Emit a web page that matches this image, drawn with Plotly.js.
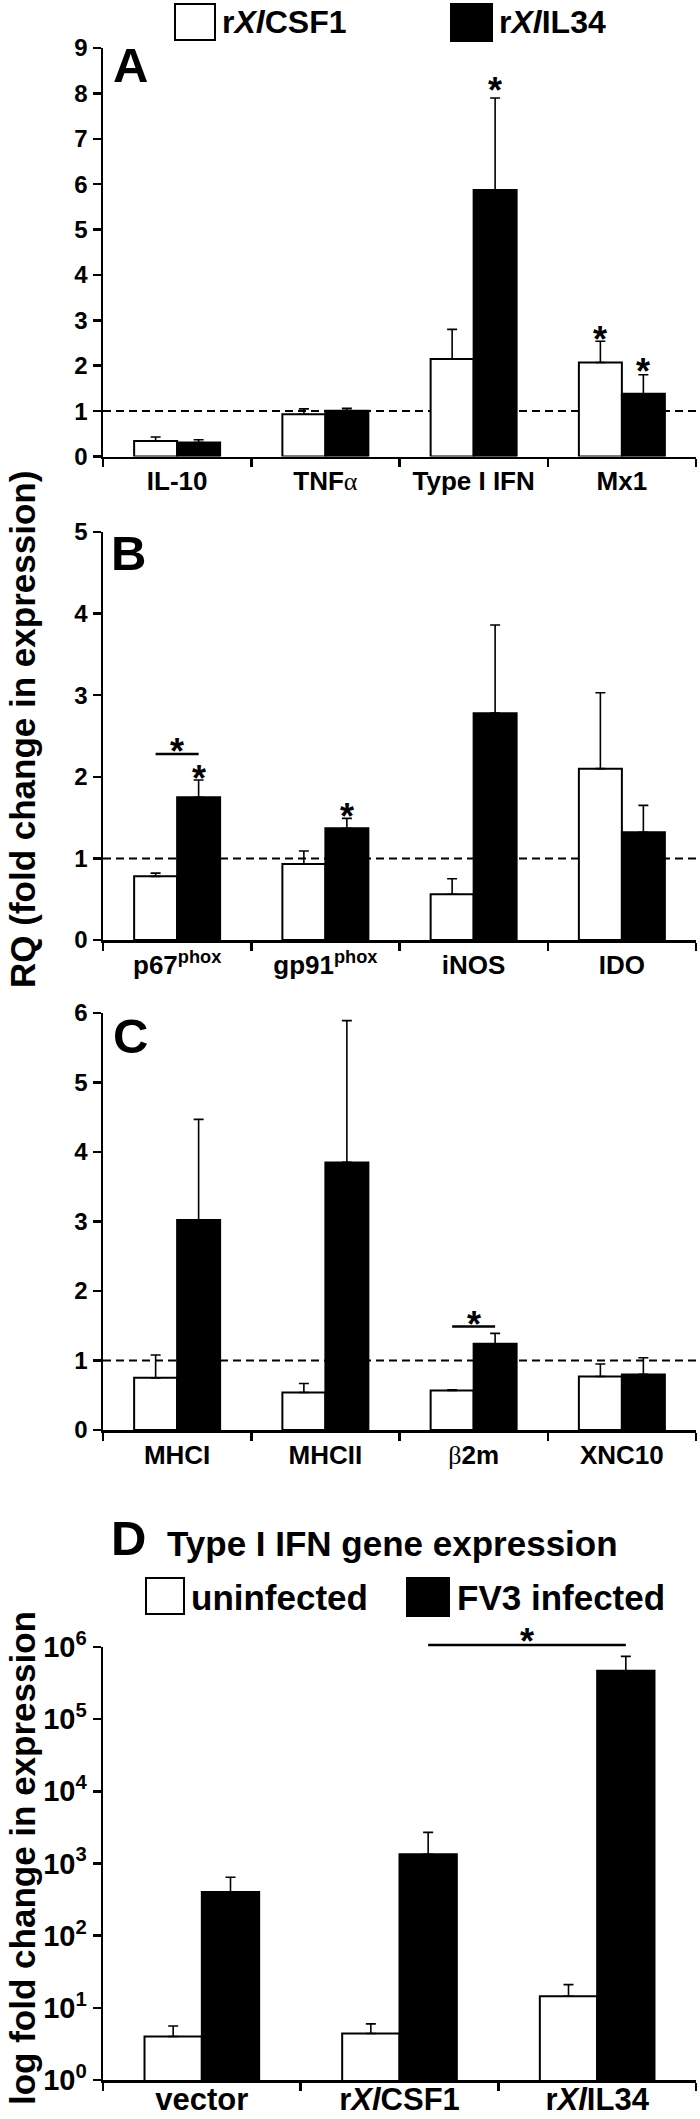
<!DOCTYPE html>
<html>
<head>
<meta charset="utf-8">
<script src="https://cdn.plot.ly/plotly-3.0.1.min.js"></script>
<style>html,body{margin:0;padding:0;background:#fff;}#chart{width:700px;height:2119px;}</style>
</head>
<body>
<div id="chart"></div>
<script>
// ---------- data ----------
const SYM = s => '<span style="font-family:Liberation Serif, serif;font-weight:normal">' + s + '</span>';
const catsA = ['IL-10', 'TNF' + SYM('α'), 'Type I IFN', 'Mx1'];
const csfA = [0.34, 0.93, 2.15, 2.07];
const csfAerr = [0.09, 0.12, 0.65, 0.47];
const il34A = [0.31, 1.01, 5.87, 1.38];
const il34Aerr = [0.06, 0.05, 2.03, 0.42];

const catsB = ['p67<sup>phox</sup>', 'gp91<sup>phox</sup>', 'iNOS', 'IDO'];
const csfB = [0.78, 0.93, 0.56, 2.10];
const csfBerr = [0.04, 0.16, 0.19, 0.93];
const il34B = [1.75, 1.37, 2.78, 1.32];
const il34Berr = [0.21, 0.12, 1.08, 0.33];

const catsC = ['MHCI', 'MHCII', SYM('β') + '2m', 'XNC10'];
const csfC = [0.75, 0.54, 0.57, 0.77];
const csfCerr = [0.33, 0.13, 0.01, 0.18];
const il34C = [3.02, 3.85, 1.24, 0.80];
const il34Cerr = [1.45, 2.04, 0.15, 0.24];

const catsD = ['vector', 'r<i>Xl</i>CSF1', 'r<i>Xl</i>IL34'];
const uninfD = [4.0, 4.4, 14.5];
const uninfDerr = [1.6, 1.6, 6.5];
const fv3D = [404, 1343, 468000];
const fv3Derr = [240, 1360, 274000];

const yTicksD = [1, 10, 100, 1000, 10000, 100000, 1000000];
const yTickTextD = ['10<sup>0</sup>', '10<sup>1</sup>', '10<sup>2</sup>', '10<sup>3</sup>', '10<sup>4</sup>', '10<sup>5</sup>', '10<sup>6</sup>'];

// significance marks: [category index, series (0 white, 1 black), star y]
const starsA = [[2, 1, 8.23], [3, 0, 2.76], [3, 1, 2.05]];
const starsB = [[0, 1, 2.08], [1, 1, 1.61]];
// bracket marks: [category index, line y, star y]
const bracketsB = [[0, 2.28, 2.41]];
const bracketsC = [[2, 1.49, 1.63]];
// panel D bracket: [from category, to category, line y, star y]
const bracketD = [1, 2, 1.07e6, 1.55e6];

// ---------- layout helpers ----------
const W = 700, H = 2119;
const px = v => v / W;
const py = v => 1 - v / H;
const BARGAP = 0.42;
const OFF = (1 - BARGAP) / 4; // centre offset of each bar in a group
const FONT = 'Liberation Sans, Arial, Helvetica, sans-serif';
const STAR = 36;

function barPair(cats, w, werr, b, berr, xa, ya) {
  const zeros = w.map(() => 0);
  return [
    {type: 'bar', x: cats, y: w, xaxis: xa, yaxis: ya, name: 'white',
     marker: {color: 'white', line: {color: 'black', width: 2}},
     error_y: {type: 'data', array: werr, arrayminus: zeros, symmetric: false, color: 'black', thickness: 1.6, width: 5}},
    {type: 'bar', x: cats, y: b, xaxis: xa, yaxis: ya, name: 'black',
     marker: {color: 'black', line: {color: 'black', width: 2}},
     error_y: {type: 'data', array: berr, arrayminus: zeros, symmetric: false, color: 'black', thickness: 1.6, width: 5}}
  ];
}

const data = [].concat(
  barPair(catsA, csfA, csfAerr, il34A, il34Aerr, 'x', 'y'),
  barPair(catsB, csfB, csfBerr, il34B, il34Berr, 'x2', 'y2'),
  barPair(catsC, csfC, csfCerr, il34C, il34Cerr, 'x3', 'y3'),
  barPair(catsD, uninfD, uninfDerr, fv3D, fv3Derr, 'x4', 'y4'),
  // empty helper trace so that the significance layer (x4 / y5) exists as a subplot
  [{type: 'scatter', x: [], y: [], xaxis: 'x4', yaxis: 'y5', hoverinfo: 'skip'}]
);

const xDomain = [px(103), px(696)];
function xAxis(anchor, fs, cats) {
  return {type: 'category', categoryorder: 'array', categoryarray: cats, domain: xDomain, anchor: anchor,
    showline: true, linecolor: 'black', linewidth: 2.5, ticks: 'outside', ticklen: 8, tickwidth: 2.5,
    tickcolor: 'black', tickson: 'boundaries', showgrid: false, zeroline: false, fixedrange: true,
    tickfont: {size: fs, family: FONT, color: 'black', weight: 'bold'}};
}
function yAxis(anchor, dom, range) {
  return {domain: dom, anchor: anchor, range: range, dtick: 1, tick0: 0,
    showline: true, linecolor: 'black', linewidth: 2.5, ticks: 'outside', ticklen: 8, tickwidth: 2.5,
    tickcolor: 'black', showgrid: false, zeroline: false, fixedrange: true,
    tickfont: {size: 24, family: FONT, color: 'black', weight: 'bold'}};
}

const shapes = [];
const annotations = [];

// reference dashed lines at RQ = 1
[['x', 'y'], ['x2', 'y2'], ['x3', 'y3']].forEach(([xa, ya]) => {
  shapes.push({type: 'line', xref: xa + ' domain', yref: ya, x0: 0, x1: 1, y0: 1, y1: 1, layer: 'below',
    line: {color: 'black', width: 2, dash: '8px,5px'}});
});

function star(xa, ya, x, y) {
  annotations.push({xref: xa, yref: ya, x: x, y: y, text: '*', showarrow: false,
    xanchor: 'center', yanchor: 'middle', yshift: -8, font: {size: STAR, family: FONT, color: 'black', weight: 'bold'}});
}
starsA.forEach(([c, s, y]) => star('x', 'y', c + (s ? OFF : -OFF), y));
starsB.forEach(([c, s, y]) => star('x2', 'y2', c + (s ? OFF : -OFF), y));
function bracket(xa, ya, c, ly, sy) {
  shapes.push({type: 'line', xref: xa, yref: ya, x0: c - OFF, x1: c + OFF, y0: ly, y1: ly, line: {color: 'black', width: 2.5}});
  star(xa, ya, c, sy);
}
bracketsB.forEach(([c, ly, sy]) => bracket('x2', 'y2', c, ly, sy));
bracketsC.forEach(([c, ly, sy]) => bracket('x3', 'y3', c, ly, sy));
shapes.push({type: 'line', xref: 'x4', yref: 'y5', x0: bracketD[0] + OFF, x1: bracketD[1] + OFF,
  y0: bracketD[2], y1: bracketD[2], line: {color: 'black', width: 2.5}});
star('x4', 'y5', (bracketD[0] + bracketD[1]) / 2 + OFF, Math.log10(bracketD[3]));

// panel letters
[['A', 130, 65.5], ['B', 128, 553], ['C', 130, 1036], ['D', 128, 1538]].forEach(([t, x, y]) => {
  annotations.push({xref: 'paper', yref: 'paper', x: px(x), y: py(y), text: t, showarrow: false,
    xanchor: 'center', yanchor: 'middle', font: {size: 49, family: FONT, color: 'black', weight: 'bold'}});
});

// legends (drawn manually)
function legBox(x0, x1, y0, y1, fill) {
  shapes.push({type: 'rect', xref: 'paper', yref: 'paper', x0: px(x0), x1: px(x1), y0: py(y1), y1: py(y0),
    fillcolor: fill, line: {color: 'black', width: 2}});
}
function legText(t, x, y, fs) {
  annotations.push({xref: 'paper', yref: 'paper', x: px(x), y: py(y), text: t, showarrow: false,
    xanchor: 'left', yanchor: 'middle', font: {size: fs, family: FONT, color: 'black', weight: 'bold'}});
}
legBox(175, 215, 4, 40, 'white');
legText('r<i>Xl</i>CSF1', 220, 22, 32);
legBox(451, 492, 4, 41, 'black');
legText('r<i>Xl</i>IL34', 497, 22, 32);

legText('Type I IFN gene expression', 165, 1543, 35);
legBox(146, 184, 1578, 1614, 'white');
legText('uninfected', 189, 1597, 35);
legBox(407, 449, 1578, 1616, 'black');
legText('FV3 infected', 455, 1597, 35);

// y-axis titles
annotations.push({xref: 'paper', yref: 'paper', x: px(22), y: py(730), text: 'RQ (fold change in expression)',
  textangle: -90, showarrow: false, xanchor: 'center', yanchor: 'middle',
  font: {size: 35, family: FONT, color: 'black', weight: 'bold'}});
annotations.push({xref: 'paper', yref: 'paper', x: px(22), y: py(1858), text: 'log fold change in expression',
  textangle: -90, showarrow: false, xanchor: 'center', yanchor: 'middle',
  font: {size: 35, family: FONT, color: 'black', weight: 'bold'}});

// panel D log axis (10^0 at y=2080 px, 10^6 at y=1647 px)
const D_BOTTOM = 2080, D_TOP = 1647, D_EXT = 1600;
const yD = yAxis('x4', [py(D_BOTTOM), py(D_TOP)], [0, 6]);
yD.type = 'log';
yD.tickmode = 'array';
yD.tickvals = yTicksD;
yD.ticktext = yTickTextD;
yD.tickfont = {size: 29, family: FONT, color: 'black', weight: 'bold'};
delete yD.dtick; delete yD.tick0;
// invisible twin with the same scale, extended upward, for the significance bracket
const decadePx = (D_BOTTOM - D_TOP) / 6;
const yD5 = {domain: [py(D_BOTTOM), py(D_EXT)], anchor: 'x4', type: 'log', visible: false, fixedrange: true,
  range: [0, (D_BOTTOM - D_EXT) / decadePx], showgrid: false, zeroline: false};

const xD = xAxis('y4', 31, catsD);
xD.ticklabelstandoff = -10;

const layout = {
  width: W, height: H, margin: {l: 0, r: 0, t: 0, b: 0},
  paper_bgcolor: 'white', plot_bgcolor: 'rgba(0,0,0,0)', showlegend: false,
  barmode: 'group', bargap: BARGAP, bargroupgap: 0,
  font: {family: FONT, color: 'black', weight: 'bold'},
  xaxis: xAxis('y', 26, catsA),
  yaxis: yAxis('x', [py(456.5), py(48)], [0, 9]),
  xaxis2: xAxis('y2', 26, catsB),
  yaxis2: yAxis('x2', [py(940), py(532)], [0, 5]),
  xaxis3: xAxis('y3', 26, catsC),
  yaxis3: yAxis('x3', [py(1430), py(1013)], [0, 6]),
  xaxis4: xD,
  yaxis4: yD,
  yaxis5: yD5,
  shapes: shapes,
  annotations: annotations
};

Plotly.newPlot('chart', data, layout, {staticPlot: true, displayModeBar: false});
</script>
</body>
</html>
